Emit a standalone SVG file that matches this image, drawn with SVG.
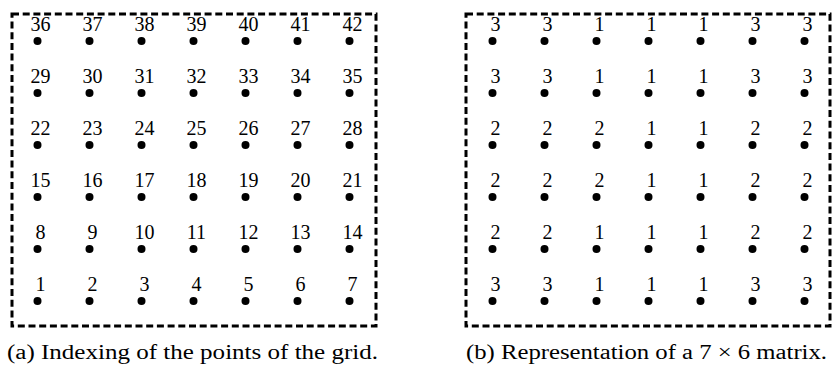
<svg xmlns="http://www.w3.org/2000/svg" width="833" height="365" viewBox="0 0 833 365">
<style>
.frame{fill:none;stroke:#000;stroke-width:3;stroke-dasharray:7 3.7;}
.dot{fill:#000;}
.lbl{font-family:"Liberation Serif",serif;font-size:20px;fill:#000;text-anchor:middle;}
.cap{font-family:"Liberation Serif",serif;font-size:20px;fill:#000;}
</style>
<defs>
<circle id="pt" r="4" class="dot"/>
</defs>
<g id="frames">
<rect id="frame-a" class="frame" x="12" y="14" width="364" height="312"/>
<rect id="frame-b" class="frame" x="466" y="14" width="364" height="312"/>
</g>
<g id="connectors"></g>
<g id="grid-a">
<g id="a36"><use href="#pt" x="37.5" y="41"/><text class="lbl" x="40.5" y="31">36</text></g>
<g id="a37"><use href="#pt" x="89.5" y="41"/><text class="lbl" x="92.5" y="31">37</text></g>
<g id="a38"><use href="#pt" x="141.5" y="41"/><text class="lbl" x="144.5" y="31">38</text></g>
<g id="a39"><use href="#pt" x="193.5" y="41"/><text class="lbl" x="196.5" y="31">39</text></g>
<g id="a40"><use href="#pt" x="245.5" y="41"/><text class="lbl" x="248.5" y="31">40</text></g>
<g id="a41"><use href="#pt" x="297.5" y="41"/><text class="lbl" x="300.5" y="31">41</text></g>
<g id="a42"><use href="#pt" x="349.5" y="41"/><text class="lbl" x="352.5" y="31">42</text></g>
<g id="a29"><use href="#pt" x="37.5" y="93"/><text class="lbl" x="40.5" y="83">29</text></g>
<g id="a30"><use href="#pt" x="89.5" y="93"/><text class="lbl" x="92.5" y="83">30</text></g>
<g id="a31"><use href="#pt" x="141.5" y="93"/><text class="lbl" x="144.5" y="83">31</text></g>
<g id="a32"><use href="#pt" x="193.5" y="93"/><text class="lbl" x="196.5" y="83">32</text></g>
<g id="a33"><use href="#pt" x="245.5" y="93"/><text class="lbl" x="248.5" y="83">33</text></g>
<g id="a34"><use href="#pt" x="297.5" y="93"/><text class="lbl" x="300.5" y="83">34</text></g>
<g id="a35"><use href="#pt" x="349.5" y="93"/><text class="lbl" x="352.5" y="83">35</text></g>
<g id="a22"><use href="#pt" x="37.5" y="145"/><text class="lbl" x="40.5" y="135">22</text></g>
<g id="a23"><use href="#pt" x="89.5" y="145"/><text class="lbl" x="92.5" y="135">23</text></g>
<g id="a24"><use href="#pt" x="141.5" y="145"/><text class="lbl" x="144.5" y="135">24</text></g>
<g id="a25"><use href="#pt" x="193.5" y="145"/><text class="lbl" x="196.5" y="135">25</text></g>
<g id="a26"><use href="#pt" x="245.5" y="145"/><text class="lbl" x="248.5" y="135">26</text></g>
<g id="a27"><use href="#pt" x="297.5" y="145"/><text class="lbl" x="300.5" y="135">27</text></g>
<g id="a28"><use href="#pt" x="349.5" y="145"/><text class="lbl" x="352.5" y="135">28</text></g>
<g id="a15"><use href="#pt" x="37.5" y="197"/><text class="lbl" x="40.5" y="187">15</text></g>
<g id="a16"><use href="#pt" x="89.5" y="197"/><text class="lbl" x="92.5" y="187">16</text></g>
<g id="a17"><use href="#pt" x="141.5" y="197"/><text class="lbl" x="144.5" y="187">17</text></g>
<g id="a18"><use href="#pt" x="193.5" y="197"/><text class="lbl" x="196.5" y="187">18</text></g>
<g id="a19"><use href="#pt" x="245.5" y="197"/><text class="lbl" x="248.5" y="187">19</text></g>
<g id="a20"><use href="#pt" x="297.5" y="197"/><text class="lbl" x="300.5" y="187">20</text></g>
<g id="a21"><use href="#pt" x="349.5" y="197"/><text class="lbl" x="352.5" y="187">21</text></g>
<g id="a8"><use href="#pt" x="37.5" y="249"/><text class="lbl" x="40.5" y="239">8</text></g>
<g id="a9"><use href="#pt" x="89.5" y="249"/><text class="lbl" x="92.5" y="239">9</text></g>
<g id="a10"><use href="#pt" x="141.5" y="249"/><text class="lbl" x="144.5" y="239">10</text></g>
<g id="a11"><use href="#pt" x="193.5" y="249"/><text class="lbl" x="196.5" y="239">11</text></g>
<g id="a12"><use href="#pt" x="245.5" y="249"/><text class="lbl" x="248.5" y="239">12</text></g>
<g id="a13"><use href="#pt" x="297.5" y="249"/><text class="lbl" x="300.5" y="239">13</text></g>
<g id="a14"><use href="#pt" x="349.5" y="249"/><text class="lbl" x="352.5" y="239">14</text></g>
<g id="a1"><use href="#pt" x="37.5" y="301"/><text class="lbl" x="40.5" y="291">1</text></g>
<g id="a2"><use href="#pt" x="89.5" y="301"/><text class="lbl" x="92.5" y="291">2</text></g>
<g id="a3"><use href="#pt" x="141.5" y="301"/><text class="lbl" x="144.5" y="291">3</text></g>
<g id="a4"><use href="#pt" x="193.5" y="301"/><text class="lbl" x="196.5" y="291">4</text></g>
<g id="a5"><use href="#pt" x="245.5" y="301"/><text class="lbl" x="248.5" y="291">5</text></g>
<g id="a6"><use href="#pt" x="297.5" y="301"/><text class="lbl" x="300.5" y="291">6</text></g>
<g id="a7"><use href="#pt" x="349.5" y="301"/><text class="lbl" x="352.5" y="291">7</text></g>
</g>
<g id="grid-b">
<g id="b36"><use href="#pt" x="492.5" y="41"/><text class="lbl" x="495.5" y="31">3</text></g>
<g id="b37"><use href="#pt" x="544.5" y="41"/><text class="lbl" x="547.5" y="31">3</text></g>
<g id="b38"><use href="#pt" x="596.5" y="41"/><text class="lbl" x="599.5" y="31">1</text></g>
<g id="b39"><use href="#pt" x="648.5" y="41"/><text class="lbl" x="651.5" y="31">1</text></g>
<g id="b40"><use href="#pt" x="700.5" y="41"/><text class="lbl" x="703.5" y="31">1</text></g>
<g id="b41"><use href="#pt" x="752.5" y="41"/><text class="lbl" x="755.5" y="31">3</text></g>
<g id="b42"><use href="#pt" x="804.5" y="41"/><text class="lbl" x="807.5" y="31">3</text></g>
<g id="b29"><use href="#pt" x="492.5" y="93"/><text class="lbl" x="495.5" y="83">3</text></g>
<g id="b30"><use href="#pt" x="544.5" y="93"/><text class="lbl" x="547.5" y="83">3</text></g>
<g id="b31"><use href="#pt" x="596.5" y="93"/><text class="lbl" x="599.5" y="83">1</text></g>
<g id="b32"><use href="#pt" x="648.5" y="93"/><text class="lbl" x="651.5" y="83">1</text></g>
<g id="b33"><use href="#pt" x="700.5" y="93"/><text class="lbl" x="703.5" y="83">1</text></g>
<g id="b34"><use href="#pt" x="752.5" y="93"/><text class="lbl" x="755.5" y="83">3</text></g>
<g id="b35"><use href="#pt" x="804.5" y="93"/><text class="lbl" x="807.5" y="83">3</text></g>
<g id="b22"><use href="#pt" x="492.5" y="145"/><text class="lbl" x="495.5" y="135">2</text></g>
<g id="b23"><use href="#pt" x="544.5" y="145"/><text class="lbl" x="547.5" y="135">2</text></g>
<g id="b24"><use href="#pt" x="596.5" y="145"/><text class="lbl" x="599.5" y="135">2</text></g>
<g id="b25"><use href="#pt" x="648.5" y="145"/><text class="lbl" x="651.5" y="135">1</text></g>
<g id="b26"><use href="#pt" x="700.5" y="145"/><text class="lbl" x="703.5" y="135">1</text></g>
<g id="b27"><use href="#pt" x="752.5" y="145"/><text class="lbl" x="755.5" y="135">2</text></g>
<g id="b28"><use href="#pt" x="804.5" y="145"/><text class="lbl" x="807.5" y="135">2</text></g>
<g id="b15"><use href="#pt" x="492.5" y="197"/><text class="lbl" x="495.5" y="187">2</text></g>
<g id="b16"><use href="#pt" x="544.5" y="197"/><text class="lbl" x="547.5" y="187">2</text></g>
<g id="b17"><use href="#pt" x="596.5" y="197"/><text class="lbl" x="599.5" y="187">2</text></g>
<g id="b18"><use href="#pt" x="648.5" y="197"/><text class="lbl" x="651.5" y="187">1</text></g>
<g id="b19"><use href="#pt" x="700.5" y="197"/><text class="lbl" x="703.5" y="187">1</text></g>
<g id="b20"><use href="#pt" x="752.5" y="197"/><text class="lbl" x="755.5" y="187">2</text></g>
<g id="b21"><use href="#pt" x="804.5" y="197"/><text class="lbl" x="807.5" y="187">2</text></g>
<g id="b8"><use href="#pt" x="492.5" y="249"/><text class="lbl" x="495.5" y="239">2</text></g>
<g id="b9"><use href="#pt" x="544.5" y="249"/><text class="lbl" x="547.5" y="239">2</text></g>
<g id="b10"><use href="#pt" x="596.5" y="249"/><text class="lbl" x="599.5" y="239">1</text></g>
<g id="b11"><use href="#pt" x="648.5" y="249"/><text class="lbl" x="651.5" y="239">1</text></g>
<g id="b12"><use href="#pt" x="700.5" y="249"/><text class="lbl" x="703.5" y="239">1</text></g>
<g id="b13"><use href="#pt" x="752.5" y="249"/><text class="lbl" x="755.5" y="239">2</text></g>
<g id="b14"><use href="#pt" x="804.5" y="249"/><text class="lbl" x="807.5" y="239">2</text></g>
<g id="b1"><use href="#pt" x="492.5" y="301"/><text class="lbl" x="495.5" y="291">3</text></g>
<g id="b2"><use href="#pt" x="544.5" y="301"/><text class="lbl" x="547.5" y="291">3</text></g>
<g id="b3"><use href="#pt" x="596.5" y="301"/><text class="lbl" x="599.5" y="291">1</text></g>
<g id="b4"><use href="#pt" x="648.5" y="301"/><text class="lbl" x="651.5" y="291">1</text></g>
<g id="b5"><use href="#pt" x="700.5" y="301"/><text class="lbl" x="703.5" y="291">1</text></g>
<g id="b6"><use href="#pt" x="752.5" y="301"/><text class="lbl" x="755.5" y="291">3</text></g>
<g id="b7"><use href="#pt" x="804.5" y="301"/><text class="lbl" x="807.5" y="291">3</text></g>
</g>
<g id="captions">
<text id="cap-a" class="cap" x="7" y="359" textLength="371" lengthAdjust="spacingAndGlyphs">(a) Indexing of the points of the grid.</text>
<text id="cap-b" class="cap" x="466" y="359" textLength="361" lengthAdjust="spacingAndGlyphs">(b) Representation of a 7 × 6 matrix.</text>
</g>
</svg>
